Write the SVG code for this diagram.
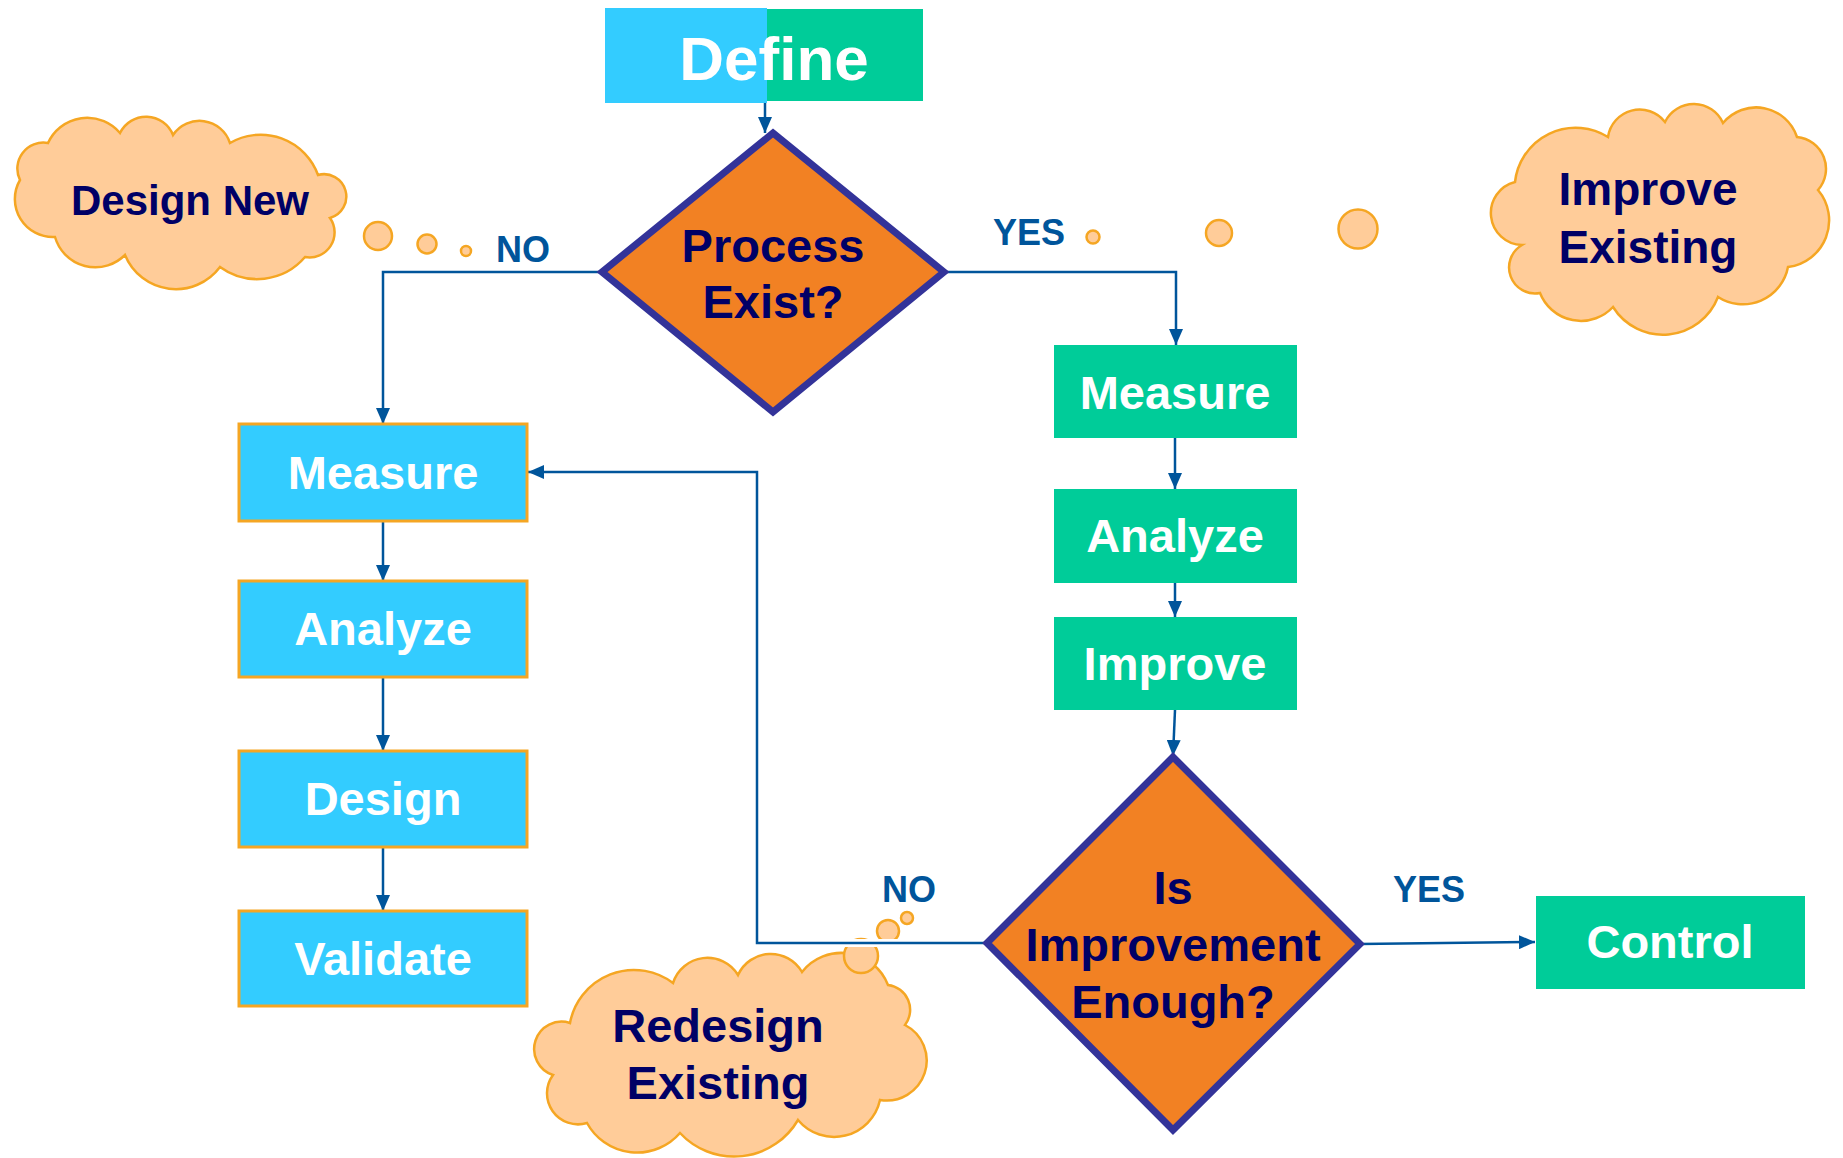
<svg xmlns="http://www.w3.org/2000/svg" width="1843" height="1158" viewBox="0 0 1843 1158">
<style>
.t{font-family:"Liberation Sans",Arial,sans-serif;font-weight:bold;text-anchor:middle}
.w{fill:#ffffff;font-size:47px}
.d{fill:#000066;font-size:47px}
.lbl{fill:#00559B;font-size:36px;font-family:"Liberation Sans",Arial,sans-serif;font-weight:bold}
.blue{fill:#33CCFF;stroke:#F5A623;stroke-width:3}
.green{fill:#00CC99}
.dia{fill:#F28123;stroke:#333399;stroke-width:7;stroke-linejoin:miter}
.cloud{fill:#FFCC99;stroke:#F5A623;stroke-width:2.5}
.bub{fill:#FFCC99;stroke:#F5A623;stroke-width:2.5}
.c{fill:none;stroke:#00559B;stroke-width:2.5}
.halo{fill:none;stroke:#ffffff;stroke-width:8}
</style>
<defs>
<marker id="ah" markerUnits="userSpaceOnUse" markerWidth="16" markerHeight="14" refX="16" refY="7" orient="auto">
<path d="M0,0 L16,7 L0,14 z" fill="#00559B"/>
</marker>
</defs>

<g id="cloud-design-new">
<path class="cloud" d="M20,180 A26,26 0 0 1 48,143 A43,43 0 0 1 120,133 A29,29 0 0 1 173,135 A32,32 0 0 1 230,143 A61,61 0 0 1 318,175 A22,22 0 0 1 330,218 A25,25 0 0 1 305,257 A63,63 0 0 1 220,267 A55,55 0 0 1 125,255 A42,42 0 0 1 55,237 A38,38 0 0 1 20,180 Z"/>
<text class="t d" x="190" y="215" style="font-size:42px">Design New</text>
</g>
<g id="cloud-improve-existing">
<path class="cloud" d="M1515,182 A61,61 0 0 1 1608,137 A32,32 0 0 1 1665,122 A32,32 0 0 1 1723,123 A43,43 0 0 1 1797,137 A32,32 0 0 1 1818,190 A47,47 0 0 1 1788,267 A46,46 0 0 1 1718,297 A59,59 0 0 1 1613,307 A44,44 0 0 1 1540,293 A26,26 0 0 1 1522,245 A32,32 0 0 1 1515,182 Z"/>
<text class="t d" x="1648" y="205" style="font-size:46px">Improve</text>
<text class="t d" x="1648" y="263" style="font-size:46px">Existing</text>
</g>
<g id="cloud-redesign-existing">
<path class="cloud" d="M570,1023 A65,65 0 0 1 673,983 A36,36 0 0 1 738,975 A36,36 0 0 1 802,972 A50,50 0 0 1 888,985 A25,25 0 0 1 905,1025 A40,40 0 0 1 880,1100 A47,47 0 0 1 798,1120 A74,74 0 0 1 680,1133 A57,57 0 0 1 587,1123 A31,31 0 0 1 553,1075 A27,27 0 0 1 570,1023 Z"/>
<text class="t d" x="718" y="1042">Redesign</text>
<text class="t d" x="718" y="1099">Existing</text>
</g>

<g id="bubbles">
<circle class="bub" cx="378" cy="236" r="14"/>
<circle class="bub" cx="427" cy="244" r="9.5"/>
<circle class="bub" cx="466" cy="251" r="5"/>
<circle class="bub" cx="1093" cy="237" r="6.5"/>
<circle class="bub" cx="1219" cy="233" r="13"/>
<circle class="bub" cx="1358" cy="229" r="19.5"/>
<circle class="bub" cx="907" cy="918" r="6"/>
<circle class="bub" cx="888" cy="931" r="11"/>
<circle class="bub" cx="861" cy="956" r="17"/>
</g>

<g id="connectors">
<path class="c" d="M765,103 V133" marker-end="url(#ah)"/>
<path class="c" d="M602,272 H383 V424" marker-end="url(#ah)"/>
<path class="c" d="M944,272 H1176 V345" marker-end="url(#ah)"/>
<path class="c" d="M1175,438 V489" marker-end="url(#ah)"/>
<path class="c" d="M1175,583 V617" marker-end="url(#ah)"/>
<path class="c" d="M1175,710 L1173,756" marker-end="url(#ah)"/>
<path class="halo" d="M987,943 H757"/>
<path class="c" d="M987,943 H757 V472 H528" marker-end="url(#ah)"/>
<path class="c" d="M1360,944 L1535,942" marker-end="url(#ah)"/>
<path class="c" d="M383,521 V581" marker-end="url(#ah)"/>
<path class="c" d="M383,677 V751" marker-end="url(#ah)"/>
<path class="c" d="M383,847 V911" marker-end="url(#ah)"/>
</g>

<g id="labels">
<text class="lbl" x="496" y="262">NO</text>
<text class="lbl" x="993" y="245">YES</text>
<text class="lbl" x="882" y="902">NO</text>
<text class="lbl" x="1393" y="902">YES</text>
</g>

<g id="define">
<rect class="green" x="767" y="9" width="156" height="92"/>
<rect x="605" y="8" width="162" height="95" fill="#33CCFF"/>
<text class="t" x="774" y="80" fill="#ffffff" style="font-size:62px">Define</text>
</g>

<g id="process-exist">
<polygon class="dia" points="773,133 944,272 773,412 602,272"/>
<text class="t d" x="773" y="262">Process</text>
<text class="t d" x="773" y="318">Exist?</text>
</g>

<g id="measure-left">
<rect class="blue" x="239" y="424" width="288" height="97"/>
<text class="t w" x="383" y="489">Measure</text>
</g>
<g id="analyze-left">
<rect class="blue" x="239" y="581" width="288" height="96"/>
<text class="t w" x="383" y="645">Analyze</text>
</g>
<g id="design-left">
<rect class="blue" x="239" y="751" width="288" height="96"/>
<text class="t w" x="383" y="815">Design</text>
</g>
<g id="validate-left">
<rect class="blue" x="239" y="911" width="288" height="95"/>
<text class="t w" x="383" y="975">Validate</text>
</g>

<g id="measure-right">
<rect class="green" x="1054" y="345" width="243" height="93"/>
<text class="t w" x="1175" y="409">Measure</text>
</g>
<g id="analyze-right">
<rect class="green" x="1054" y="489" width="243" height="94"/>
<text class="t w" x="1175" y="552">Analyze</text>
</g>
<g id="improve-right">
<rect class="green" x="1054" y="617" width="243" height="93"/>
<text class="t w" x="1175" y="680">Improve</text>
</g>

<g id="improvement-enough">
<polygon class="dia" points="1173,757 1360,944 1173,1130 987,943"/>
<text class="t d" x="1173" y="904">Is</text>
<text class="t d" x="1173" y="961">Improvement</text>
<text class="t d" x="1173" y="1018">Enough?</text>
</g>

<g id="control">
<rect class="green" x="1536" y="896" width="269" height="93"/>
<text class="t w" x="1670" y="958">Control</text>
</g>
</svg>
